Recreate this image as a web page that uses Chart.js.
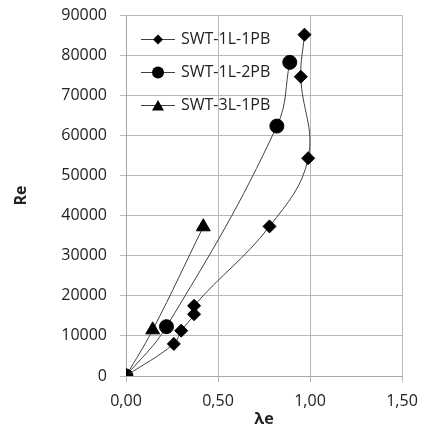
<!DOCTYPE html>
<html>
<head>
<meta charset="utf-8">
<script src="https://cdn.jsdelivr.net/npm/chart.js@4.4.1/dist/chart.umd.min.js"></script>
<style>
  html, body { margin: 0; padding: 0; background: #fff; }
</style>
</head>
<body>
<canvas id="chart" width="422" height="436"></canvas>
<script>
// series names (legend)
const seriesNames = ['SWT-1L-1PB', 'SWT-1L-2PB', 'SWT-3L-1PB'];

// SWT-1L-1PB
const lambda1 = [0, 0.26, 0.30, 0.37, 0.37, 0.78, 0.99, 0.95, 0.97];
const re1 = [0, 8000, 11300, 15400, 17500, 37300, 54300, 74600, 85100];

// SWT-1L-2PB
const lambda2 = [0, 0.22, 0.82, 0.89];
const re2 = [0, 12300, 62300, 78200];

// SWT-3L-1PB
const lambda3 = [0, 0.145, 0.42];
const re3 = [0, 11500, 37200];

const xTicks = [0, 0.5, 1.0, 1.5];
const yTicks = [0, 10000, 20000, 30000, 40000, 50000, 60000, 70000, 80000, 90000];

const lineColor = '#404040';
const gridColor = '#b8b8b8';
const textColor = '#222';
const fontFamily = '"Open Sans", "DejaVu Sans", sans-serif';

function toPoints(xs, ys) {
  return xs.map((x, i) => ({ x: x, y: ys[i] }));
}

// little line + marker icon for the legend
function legendIcon(kind) {
  const c = document.createElement('canvas');
  c.width = 34;
  c.height = 18;
  const g = c.getContext('2d');
  g.strokeStyle = lineColor;
  g.lineWidth = 1;
  g.beginPath();
  g.moveTo(0, 9.5);
  g.lineTo(34, 9.5);
  g.stroke();
  g.fillStyle = '#000';
  g.beginPath();
  if (kind === 'diamond') {
    g.moveTo(17, 4.5); g.lineTo(22, 9.5); g.lineTo(17, 14.5); g.lineTo(12, 9.5);
  } else if (kind === 'circle') {
    g.arc(17, 9.5, 6, 0, Math.PI * 2);
  } else {
    g.moveTo(17, 4); g.lineTo(23, 14.5); g.lineTo(11, 14.5);
  }
  g.closePath();
  g.fill();
  return c;
}
const icons = [legendIcon('diamond'), legendIcon('circle'), legendIcon('triangle')];

function makeSet(label, data, style, radius) {
  return {
    label: label,
    data: data,
    showLine: true,
    fill: false,
    borderColor: lineColor,
    borderWidth: 1,
    tension: 0.4,
    pointStyle: style,
    pointRadius: radius,
    pointHoverRadius: radius,
    pointBackgroundColor: '#000',
    pointBorderColor: '#000',
    pointBorderWidth: 1
  };
}

// scales should not push the plot area around, the layout padding decides it
function noScalePadding(s) {
  s.paddingTop = 0;
  s.paddingBottom = 0;
  s.paddingLeft = 0;
  s.paddingRight = 0;
}

new Chart(document.getElementById('chart').getContext('2d'), {
  type: 'scatter',
  data: {
    datasets: [
      makeSet(seriesNames[0], toPoints(lambda1, re1), 'rectRot', 6.5),
      makeSet(seriesNames[1], toPoints(lambda2, re2), 'circle', 7),
      makeSet(seriesNames[2], toPoints(lambda3, re3), 'triangle', 8)
    ]
  },
  options: {
    responsive: false,
    animation: false,
    layout: { autoPadding: false, padding: { top: 15, right: 20, bottom: 0, left: 0 } },
    plugins: {
      tooltip: { enabled: false },
      legend: {
        position: 'chartArea',
        align: 'start',
        // empty title only used to push the rows down a bit
        title: { display: true, text: '', font: { size: 10 }, padding: { top: 2, bottom: 0 } },
        labels: {
          usePointStyle: true,
          pointStyleWidth: 30,
          padding: 17,
          color: textColor,
          font: { family: fontFamily, size: 16 },
          generateLabels: (chart) => {
            const items = Chart.defaults.plugins.legend.labels.generateLabels(chart);
            items.forEach((it, i) => { it.pointStyle = icons[i]; });
            return items;
          }
        }
      }
    },
    scales: {
      x: {
        type: 'linear',
        min: 0,
        max: 1.5,
        afterBuildTicks: (s) => { s.ticks = xTicks.map(v => ({ value: v })); },
        afterFit: (s) => { s.height = 60; noScalePadding(s); },
        ticks: {
          padding: 10,
          color: textColor,
          font: { family: fontFamily, size: 16 },
          callback: (v) => Number(v).toFixed(2).replace('.', ',')
        },
        grid: { color: gridColor, tickLength: 6, lineWidth: 1 },
        border: { color: '#a6a6a6' },
        title: {
          display: true,
          text: 'λe',
          color: textColor,
          font: { family: fontFamily, size: 16, weight: 'bold' },
          padding: { top: 0, bottom: 7 }
        }
      },
      y: {
        min: 0,
        max: 90000,
        afterBuildTicks: (s) => { s.ticks = yTicks.map(v => ({ value: v })); },
        afterFit: (s) => { s.width = 126; noScalePadding(s); },
        ticks: {
          padding: 13,
          color: textColor,
          font: { family: fontFamily, size: 16 },
          callback: (v) => String(v)
        },
        grid: { color: gridColor, tickLength: 6, lineWidth: 1 },
        border: { color: '#a6a6a6' },
        title: {
          display: true,
          text: 'Re',
          color: textColor,
          font: { family: fontFamily, size: 16, weight: 'bold' },
          padding: { top: 12, bottom: 0 }
        }
      }
    }
  }
});
</script>
</body>
</html>
